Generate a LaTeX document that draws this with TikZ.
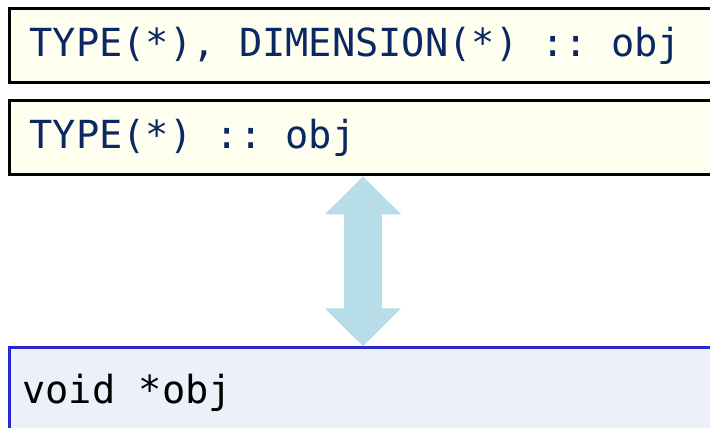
\documentclass[tikz,border=0pt]{standalone}
\usepackage{fontspec}
\newfontfamily\codemono{DejaVu Sans Mono}
\newcommand{\codesetup}{\codemono\fontsize{22}{27}\selectfont}
\newcommand{\cgap}{\hspace*{0.602em}}
\usetikzlibrary{arrows.meta, positioning}
\definecolor{codeblue}{RGB}{12,40,100}
\definecolor{creamfill}{RGB}{255,255,240}
\definecolor{cfill}{RGB}{236,240,249}
\definecolor{cborder}{RGB}{40,40,210}
\definecolor{linkblue}{RGB}{183,221,232}

\begin{document}
\begin{tikzpicture}[
        fdecl/.style={font=\codesetup, draw=black, line width=1.8pt, fill=creamfill, text=codeblue,
            minimum height=1.48cm, text width=13.6cm, inner xsep=0.4cm, align=left,
            anchor=north west},
        cdecl/.style={font=\codesetup, draw=cborder, line width=1.6pt, fill=cfill, text=black,
            minimum height=1.8cm, text width=14cm, inner xsep=0.26cm, align=left,
            anchor=north west},
        linkarrow/.style={draw=linkblue, line width=0.76cm,
            arrows={Triangle[width=1.48cm, length=0.76cm]-Triangle[width=1.48cm, length=0.76cm]}}
    ]
    \useasboundingbox (0,0) rectangle (14.2,8.54);
    % Fortran side
    \node[fdecl] (decl1) at (0.16,8.4) {TYPE(*),\cgap{}DIMENSION(*)\cgap{}::\cgap{}obj};
    \node[fdecl, below=0.3cm of decl1.south west, anchor=north west] (decl2) {TYPE(*)\cgap{}::\cgap{}obj};
    % C side
    \node[cdecl, below=3.4cm of decl2.south west, anchor=north west] (cvoid) {void\cgap{}*obj};
    \coordinate (axis) at (7.26,0);
    \draw[linkarrow] (axis |- decl2.south) -- (axis |- cvoid.north);
\end{tikzpicture}
\end{document}
